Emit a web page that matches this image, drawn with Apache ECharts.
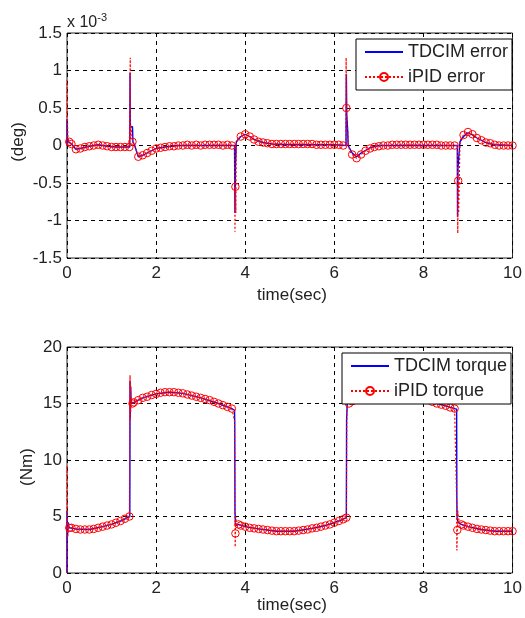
<!DOCTYPE html>
<html>
<head>
<meta charset="utf-8">
<script src="https://cdn.jsdelivr.net/npm/echarts@6.0.0/dist/echarts.min.js"></script>
<style>
  html, body { margin: 0; padding: 0; background: #fff; }
  #chart { width: 525px; height: 618px; }
</style>
</head>
<body>
<div id="chart"></div>
<script>
// error values are in units of 1e-3 deg
var xTicks = [0, 2, 4, 6, 8, 10];

// iPID error: points that carry a circle marker
var iPidErrorMarks = [
  [0.05, 0.05], [0.1, 0.02], [0.2, -0.05], [0.3, -0.04], [0.4, -0.02], [0.5, -0.01],
  [0.6, 0.0], [0.7, 0.01], [0.8, 0.0], [0.9, -0.01], [1.0, -0.02], [1.1, -0.02],
  [1.2, -0.02], [1.3, -0.02], [1.4, -0.02], [1.47, 0.05], [1.6, -0.15], [1.7, -0.13],
  [1.8, -0.1], [1.9, -0.07], [2.0, -0.04], [2.1, -0.03], [2.2, -0.02], [2.3, -0.01],
  [2.4, -0.01], [2.5, 0.0], [2.6, 0.0], [2.7, 0.01], [2.8, 0.0], [2.9, 0.01],
  [3.0, 0.0], [3.1, 0.01], [3.2, 0.01], [3.3, 0.01], [3.4, 0.01], [3.5, 0.0],
  [3.6, 0.01], [3.7, 0.0], [3.78, -0.55], [3.9, 0.12], [4.0, 0.15], [4.1, 0.12],
  [4.2, 0.08], [4.3, 0.05], [4.4, 0.04], [4.5, 0.03], [4.6, 0.02], [4.7, 0.02],
  [4.8, 0.02], [4.9, 0.02], [5.0, 0.02], [5.1, 0.02], [5.2, 0.02], [5.3, 0.02],
  [5.4, 0.02], [5.5, 0.02], [5.6, 0.01], [5.7, 0.01], [5.8, 0.01], [5.9, 0.01],
  [6.0, 0.01], [6.1, 0.01], [6.2, 0.0], [6.27, 0.5], [6.4, -0.12], [6.5, -0.17],
  [6.6, -0.12], [6.7, -0.07], [6.8, -0.04], [6.9, -0.02], [7.0, -0.01], [7.1, 0.0],
  [7.2, 0.0], [7.3, 0.01], [7.4, 0.01], [7.5, 0.01], [7.6, 0.01], [7.7, 0.01],
  [7.8, 0.01], [7.9, 0.01], [8.0, 0.01], [8.1, 0.01], [8.2, 0.01], [8.3, 0.01],
  [8.4, 0.0], [8.5, 0.0], [8.6, 0.0], [8.7, 0.0], [8.78, -0.47], [8.9, 0.14],
  [9.0, 0.18], [9.1, 0.15], [9.2, 0.1], [9.3, 0.07], [9.4, 0.04], [9.5, 0.03],
  [9.6, 0.01], [9.7, 0.0], [9.8, 0.0], [9.9, 0.0], [10.0, 0.0]
];
// iPID error: fast transients, line only
var iPidErrorSpikes = [
  [0, 0.0], [0.002, 0.87], [0.01, 0.35], [0.02, 0.1],
  [1.415, -0.02], [1.42, 1.17], [1.425, 0.1], [1.43, 0.28], [1.46, 0.28], [1.52, 0.0],
  [3.765, 0.0], [3.77, -1.15], [3.775, -0.6], [3.79, -0.9], [3.8, 0.02], [3.85, 0.1],
  [6.262, 0.0], [6.265, 1.17], [6.28, 0.25], [6.3, 0.2], [6.32, 0.0], [6.35, -0.08],
  [8.765, 0.0], [8.77, -1.17], [8.79, -0.9], [8.82, 0.05], [8.85, 0.1]
];
var tdcimError = [
  [0, 0.0], [0.002, 0.35], [0.01, 0.1], [0.03, 0.05], [0.1, 0.02], [0.2, -0.05],
  [0.3, -0.04], [0.5, -0.01], [0.7, 0.01], [0.9, -0.01], [1.1, -0.02], [1.41, -0.02],
  [1.415, 0.97], [1.42, 0.25], [1.47, 0.25], [1.48, 0.05], [1.52, 0.0], [1.6, -0.15],
  [1.7, -0.13], [1.8, -0.1], [1.9, -0.07], [2.0, -0.04], [2.2, -0.02], [2.5, 0.0],
  [3.0, 0.0], [3.5, 0.0], [3.76, 0.0], [3.77, -0.9], [3.78, -0.3], [3.8, 0.05],
  [3.9, 0.12], [4.0, 0.15], [4.1, 0.12], [4.2, 0.08], [4.4, 0.04], [4.6, 0.02],
  [5.0, 0.01], [5.5, 0.01], [6.0, 0.01], [6.262, 0.0], [6.27, 0.95], [6.28, 0.4],
  [6.3, 0.2], [6.31, 0.0], [6.4, -0.1], [6.5, -0.15], [6.6, -0.1], [6.8, -0.03],
  [7.0, 0.0], [8.0, 0.0], [8.76, 0.0], [8.765, -0.95], [8.775, -0.3], [8.82, 0.05],
  [8.9, 0.12], [9.0, 0.17], [9.1, 0.14], [9.2, 0.1], [9.4, 0.04], [9.6, 0.01], [10, 0.0]
];

// torque (Nm)
var iPidTorqueMarks = [
  [0.05, 4.0], [0.1, 4.0], [0.2, 3.9], [0.3, 3.85], [0.4, 3.85], [0.5, 3.85],
  [0.6, 3.9], [0.7, 4.0], [0.8, 4.1], [0.9, 4.2], [1.0, 4.3], [1.1, 4.45],
  [1.2, 4.6], [1.3, 4.8], [1.4, 5.0], [1.47, 15.0], [1.5, 15.1], [1.6, 15.3],
  [1.7, 15.5], [1.8, 15.6], [1.9, 15.75], [2.0, 15.85], [2.1, 15.95], [2.2, 16.0],
  [2.3, 16.0], [2.4, 16.0], [2.5, 15.95], [2.6, 15.9], [2.7, 15.8], [2.8, 15.7],
  [2.9, 15.6], [3.0, 15.5], [3.1, 15.4], [3.2, 15.3], [3.3, 15.15], [3.4, 15.0],
  [3.5, 14.85], [3.6, 14.7], [3.7, 14.55], [3.78, 3.5], [3.85, 4.3], [3.9, 4.2],
  [4.0, 4.1], [4.1, 4.0], [4.2, 3.95], [4.3, 3.9], [4.4, 3.85], [4.5, 3.8],
  [4.6, 3.75], [4.7, 3.7], [4.8, 3.7], [4.9, 3.7], [5.0, 3.7], [5.1, 3.7],
  [5.2, 3.75], [5.3, 3.8], [5.4, 3.85], [5.5, 3.95], [5.6, 4.0], [5.7, 4.1],
  [5.8, 4.2], [5.9, 4.3], [6.0, 4.45], [6.1, 4.6], [6.2, 4.75], [6.27, 4.9],
  [6.33, 15.0], [6.4, 15.2], [6.5, 15.35], [6.6, 15.5], [6.7, 15.6], [6.8, 15.75],
  [6.9, 15.85], [7.0, 15.95], [7.1, 16.0], [7.2, 16.0], [7.3, 16.0], [7.4, 15.95],
  [7.5, 15.9], [7.6, 15.8], [7.7, 15.7], [7.8, 15.6], [7.9, 15.5], [8.0, 15.4],
  [8.1, 15.3], [8.2, 15.15], [8.3, 15.0], [8.4, 14.9], [8.5, 14.8], [8.6, 14.65],
  [8.7, 14.55], [8.76, 3.8], [8.85, 4.3], [8.9, 4.2], [9.0, 4.1], [9.1, 4.0],
  [9.2, 3.9], [9.3, 3.85], [9.4, 3.8], [9.5, 3.75], [9.6, 3.7], [9.7, 3.7],
  [9.8, 3.7], [9.9, 3.7], [10.0, 3.7]
];
var iPidTorqueSpikes = [
  [0, 0.0], [0.003, 9.5], [0.01, 4.5], [0.02, 3.3], [0.03, 4.2],
  [1.41, 5.0], [1.415, 17.5], [1.42, 13.5], [1.425, 16.8], [1.43, 14.3], [1.44, 15.5],
  [3.74, 14.5], [3.76, 13.5], [3.77, 5.8], [3.775, 2.3], [3.79, 5.0], [3.8, 4.3],
  [6.275, 4.9], [6.28, 13.3], [6.29, 15.5], [6.3, 15.0],
  [8.73, 14.5], [8.745, 6.5], [8.75, 2.0], [8.77, 5.5], [8.8, 4.5]
];
var tdcimTorque = [
  [0, 0.0], [0.003, 5.5], [0.01, 3.2], [0.02, 4.5], [0.05, 4.0], [0.2, 3.9],
  [0.5, 3.85], [0.8, 4.1], [1.0, 4.3], [1.2, 4.6], [1.41, 5.0], [1.415, 17.0],
  [1.42, 13.8], [1.43, 16.5], [1.44, 15.0], [1.5, 15.1], [1.7, 15.5], [2.0, 15.85],
  [2.3, 16.0], [2.6, 15.9], [3.0, 15.5], [3.4, 15.0], [3.7, 14.55], [3.76, 14.4],
  [3.765, 13.3], [3.77, 5.5], [3.78, 4.4], [3.8, 4.2], [3.85, 4.3], [4.0, 4.1],
  [4.3, 3.9], [4.7, 3.7], [5.1, 3.7], [5.5, 3.95], [5.8, 4.2], [6.1, 4.6],
  [6.27, 4.9], [6.275, 13.5], [6.28, 13.6], [6.29, 15.0], [6.33, 15.0], [6.5, 15.35],
  [7.0, 15.95], [7.3, 16.0], [7.7, 15.7], [8.0, 15.4], [8.4, 14.9], [8.7, 14.55],
  [8.745, 14.5], [8.75, 6.5], [8.755, 5.0], [8.77, 4.5], [8.85, 4.3], [9.0, 4.1],
  [9.3, 3.85], [9.6, 3.7], [10, 3.7]
];

var FONT = 'Liberation Sans, Arial, sans-serif';

function withMarks(marks, spikes) {
  var pts = marks.map(function (p) { return { value: p }; })
    .concat(spikes.map(function (p) { return { value: p, symbol: 'none' }; }));
  pts.sort(function (a, b) { return a.value[0] - b.value[0]; });
  return pts;
}

function xAxisFor(idx) {
  return {
    gridIndex: idx, type: 'value', min: xTicks[0], max: xTicks[xTicks.length - 1], interval: 2,
    axisLine: { show: false }, axisTick: { show: false },
    axisLabel: { color: '#222', fontSize: 17, fontFamily: FONT, margin: 7 },
    splitLine: { show: true, lineStyle: { color: '#000', type: [4, 4], width: 1 } }
  };
}
function yAxisFor(idx, min, max, step) {
  return {
    gridIndex: idx, type: 'value', min: min, max: max, interval: step,
    axisLine: { show: false }, axisTick: { show: false },
    axisLabel: { color: '#222', fontSize: 17, fontFamily: FONT, margin: 5 },
    splitLine: { show: true, lineStyle: { color: '#000', type: [4, 4], width: 1 } }
  };
}
function legendFor(names, left, top) {
  return {
    data: names, orient: 'vertical', left: left, top: top,
    backgroundColor: '#fff', borderColor: '#000', borderWidth: 1,
    padding: [3, 4, 3, 8], itemGap: 5, itemWidth: 38, itemHeight: 10,
    textStyle: { fontSize: 18, fontFamily: FONT, color: '#222', lineHeight: 20 },
    z: 10
  };
}
function blueSeries(name, idx, data) {
  return {
    name: name, type: 'line', xAxisIndex: idx, yAxisIndex: idx,
    data: data, symbol: 'none', animation: false,
    lineStyle: { color: '#0000ff', width: 1.4 },
    itemStyle: { color: 'rgba(0,0,0,0)', borderWidth: 0 }
  };
}
function redSeries(name, idx, data) {
  return {
    name: name, type: 'line', xAxisIndex: idx, yAxisIndex: idx,
    data: data, symbol: 'circle', symbolSize: 7.5, showAllSymbol: true, animation: false,
    lineStyle: { color: '#ff0000', width: 1.2, type: [2, 2] },
    itemStyle: { color: 'rgba(0,0,0,0)', borderColor: '#ff0000', borderWidth: 1 }
  };
}

var chart = echarts.init(document.getElementById('chart'));
var option = {
  backgroundColor: '#fff',
  grid: [
    { left: 67, top: 33, width: 450, height: 225, show: true, borderColor: '#262626', borderWidth: 1, backgroundColor: 'transparent' },
    { left: 67, top: 347, width: 450, height: 226, show: true, borderColor: '#262626', borderWidth: 1, backgroundColor: 'transparent' }
  ],
  xAxis: [xAxisFor(0), xAxisFor(1)],
  yAxis: [yAxisFor(0, -1.5, 1.5, 0.5), yAxisFor(1, 0, 20, 5)],
  legend: [
    legendFor(['TDCIM error', 'iPID error'], 356, 39),
    legendFor(['TDCIM torque', 'iPID torque'], 342, 353)
  ],
  graphic: [
    { type: 'text', left: 67, top: 12, style: {
      rich: { b: { fontSize: 16, fontFamily: FONT, fill: '#222' }, s: { fontSize: 11, fontFamily: FONT, fill: '#222', verticalAlign: 'top', padding: [0, 0, 10, 0] } },
      text: '{b|x 10}{s|-3}' } },
    { type: 'text', x: 292, y: 295, style: { text: 'time(sec)', fontSize: 17, fontFamily: FONT, fill: '#222', textAlign: 'center', textVerticalAlign: 'middle' } },
    { type: 'text', x: 292, y: 605, style: { text: 'time(sec)', fontSize: 17, fontFamily: FONT, fill: '#222', textAlign: 'center', textVerticalAlign: 'middle' } },
    { type: 'text', x: 18, y: 142, rotation: Math.PI / 2, style: { text: '(deg)', fontSize: 17, fontFamily: FONT, fill: '#222', textAlign: 'center', textVerticalAlign: 'middle' } },
    { type: 'text', x: 27, y: 467, rotation: Math.PI / 2, style: { text: '(Nm)', fontSize: 17, fontFamily: FONT, fill: '#222', textAlign: 'center', textVerticalAlign: 'middle' } }
  ],
  series: [
    blueSeries('TDCIM error', 0, tdcimError),
    redSeries('iPID error', 0, withMarks(iPidErrorMarks, iPidErrorSpikes)),
    blueSeries('TDCIM torque', 1, tdcimTorque),
    redSeries('iPID torque', 1, withMarks(iPidTorqueMarks, iPidTorqueSpikes))
  ]
};
chart.setOption(option);
</script>
</body>
</html>
